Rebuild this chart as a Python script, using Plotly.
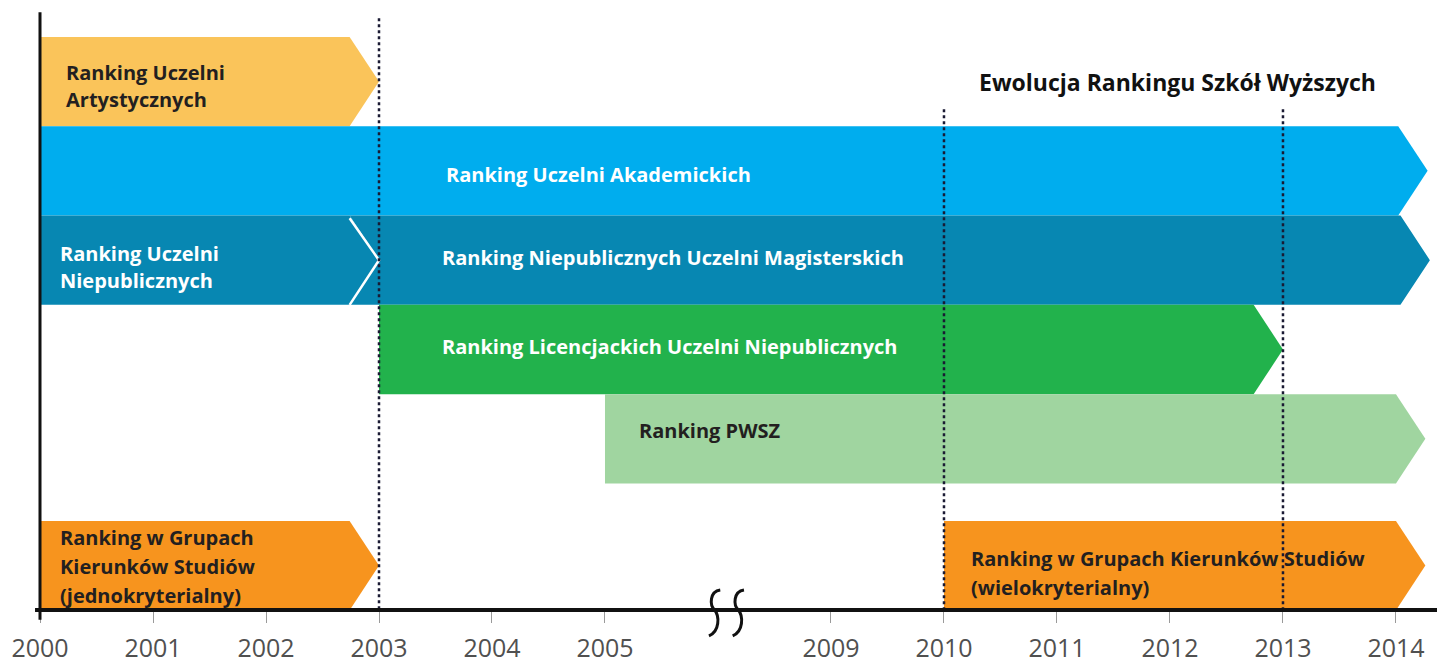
import plotly.graph_objects as go

# ---------------- data ----------------
tick_years = [2000, 2001, 2002, 2003, 2004, 2005, 2009, 2010, 2011, 2012, 2013, 2014]

bar_names = [
    "Ranking Uczelni Artystycznych",
    "Ranking Uczelni Akademickich",
    "Ranking Uczelni Niepublicznych",
    "Ranking Niepublicznych Uczelni Magisterskich",
    "Ranking Licencjackich Uczelni Niepublicznych",
    "Ranking PWSZ",
    "Ranking w Grupach Kierunków Studiów (jednokryterialny)",
    "Ranking w Grupach Kierunków Studiów (wielokryterialny)",
]
bar_start = [2000, 2000, 2000, 2003, 2003, 2005, 2000, 2010]
bar_end = [2003.0, 2014.28, 2003.0, 2014.3, 2013.0, 2014.26, 2003.0, 2014.26]
bar_row = [0, 1, 2, 2, 3, 4, 5, 5]

label_lines = [
    ["Ranking Uczelni", "Artystycznych"],
    ["Ranking Uczelni Akademickich"],
    ["Ranking Uczelni", "Niepublicznych"],
    ["Ranking Niepublicznych Uczelni Magisterskich"],
    ["Ranking Licencjackich Uczelni Niepublicznych"],
    ["Ranking PWSZ"],
    ["Ranking w Grupach", "Kierunków Studiów", "(jednokryterialny)"],
    ["Ranking w Grupach Kierunków Studiów", "(wielokryterialny)"],
]
milestone_years = [2003, 2010, 2013]
title_text = "Ewolucja Rankingu Szkół Wyższych"

# ---------------- styles / layout ----------------
bar_colors = ["#FAC45A", "#00ADEE", "#0787B2", "#0787B2", "#22B24C", "#A0D5A0", "#F7941E", "#F7941E"]
text_colors = ["#231F20", "#FFFFFF", "#FFFFFF", "#FFFFFF", "#FFFFFF", "#231F20", "#231F20", "#231F20"]
tail_notch = [False, False, False, True, False, False, False, False]
row_top = [0, 1, 2, 3, 4, 5.42]          # slot positions of the rows
label_x = [0.22, 3.58, 0.17, 3.55, 3.55, 5.29, 0.17, 8.23]
label_y = [[0.40, 0.70], [1.54], [2.42, 2.73], [2.47], [3.47], [4.41], [5.61, 5.93, 6.26], [5.84, 6.17]]
milestone_top = [-0.21, 0.81, 0.81]
DEPTH = 0.26
X_RANGE = [-0.354, 12.363]
Y_RANGE = [6.417, -0.413]
FONT = "Open Sans"
LABEL_SIZE = 20


def pos(year):
    """Map a year to the broken time axis (2006-2008 removed)."""
    return year - 2000 if year < 2007 else year - 2002


fig = go.Figure()

# arrows
for i, name in enumerate(bar_names):
    x0 = pos(bar_start[i])
    xt = pos(bar_end[i])
    x1 = xt - DEPTH
    top = row_top[bar_row[i]]
    bot = top + 1
    mid = top + 0.5
    if tail_notch[i]:
        xs = [x0 - DEPTH, x1, xt, x1, x0 - DEPTH, x0, x0 - DEPTH]
        ys = [top, top, mid, bot, bot, mid, top]
    else:
        xs = [x0, x1, xt, x1, x0, x0]
        ys = [top, top, mid, bot, bot, top]
    fig.add_trace(go.Scatter(
        x=xs, y=ys, mode="lines", fill="toself", fillcolor=bar_colors[i],
        line=dict(width=0, color=bar_colors[i]), hoverinfo="skip",
        showlegend=False, name=name))

# white chevron separating "Uczelni Niepublicznych" from "Magisterskich"
i = 2
xt = pos(bar_end[i])
top = row_top[bar_row[i]]
fig.add_trace(go.Scatter(
    x=[xt - DEPTH, xt, xt - DEPTH], y=[top + 0.03, top + 0.5, top + 1],
    mode="lines", line=dict(color="white", width=2.5), hoverinfo="skip", showlegend=False))

# labels
for i, lines in enumerate(label_lines):
    for j, ln in enumerate(lines):
        fig.add_annotation(x=label_x[i], y=label_y[i][j], text=f"<b>{ln}</b>",
                           xanchor="left", yanchor="middle", showarrow=False, borderpad=0,
                           font=dict(family=FONT, size=LABEL_SIZE, color=text_colors[i]))

fig.add_annotation(x=10.07, y=0.5, text=f"<b>{title_text}</b>", xanchor="center", yanchor="middle",
                   showarrow=False, font=dict(family=FONT, size=23, color="#111111"))

# milestone dotted lines
for k, yr in enumerate(milestone_years):
    fig.add_shape(type="line", xref="x", yref="y", x0=pos(yr), x1=pos(yr),
                  y0=milestone_top[k], y1=Y_RANGE[0],
                  line=dict(color="#1A1A33", width=2.5, dash="dot"))

# axes lines
fig.add_shape(type="line", xref="x", yref="paper", x0=-0.044, x1=X_RANGE[1], y0=0, y1=0,
              line=dict(color="#111111", width=4))
fig.add_shape(type="line", xref="x", yref="paper", x0=pos(2000), x1=pos(2000), y0=-0.016, y1=0.98,
              line=dict(color="#111111", width=3))

# axis break marks
for cx in [pos(2005) + 0.97, pos(2005) + 1.18]:
    path = (f"M {cx + 0.05},0.0327 C {cx - 0.045},0.03 {cx - 0.045},0.008 {cx},0 "
            f"C {cx + 0.045},-0.01 {cx + 0.045},-0.035 {cx - 0.05},-0.0425")
    fig.add_shape(type="path", xref="x", yref="paper", path=path,
                  line=dict(color="#111111", width=3))

fig.update_xaxes(range=X_RANGE, tickvals=[pos(y) for y in tick_years],
                 ticktext=[str(y) for y in tick_years], ticks="outside", ticklen=12,
                 tickwidth=1, tickcolor="#9a9a9a", showgrid=False, zeroline=False, showline=False,
                 ticklabelstandoff=4,
                 tickfont=dict(family="Open Sans", size=25, color="#505050"), fixedrange=True)
fig.update_yaxes(range=Y_RANGE, visible=False, showgrid=False, zeroline=False, fixedrange=True)

fig.update_layout(width=1437, height=664, margin=dict(l=0, r=0, t=0, b=52),
                  plot_bgcolor="white", paper_bgcolor="white", showlegend=False)

fig.write_html("out.html", config={"displayModeBar": False},
               post_script="document.body.style.margin='0';document.body.style.overflow='hidden';")
